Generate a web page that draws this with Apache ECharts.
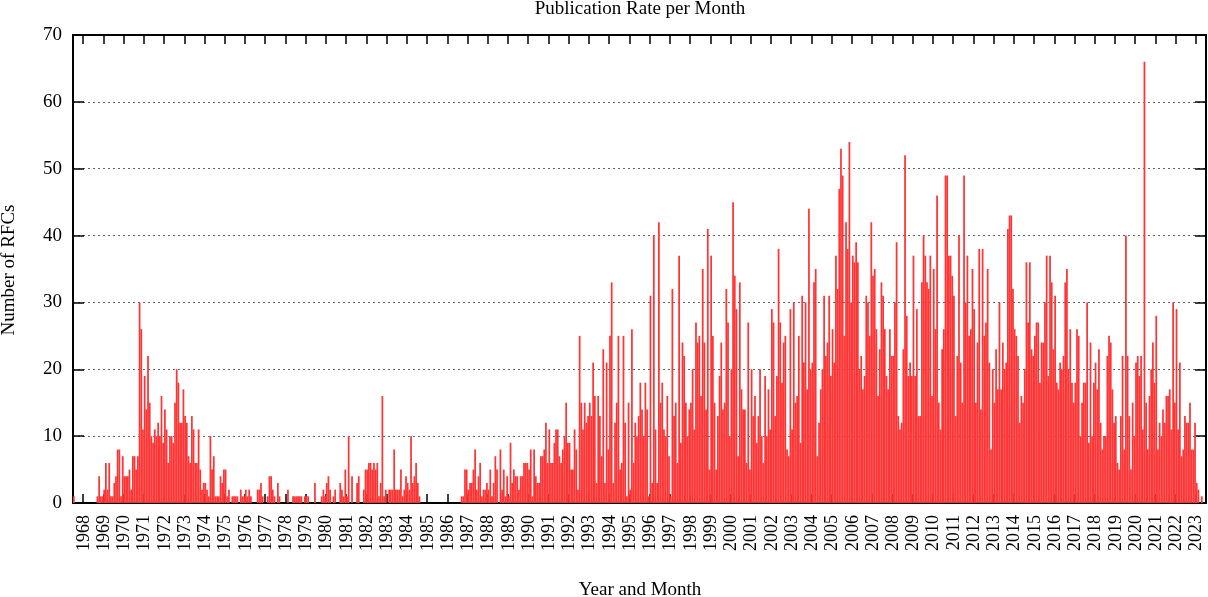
<!DOCTYPE html>
<html>
<head>
<meta charset="utf-8">
<title>Publication Rate per Month</title>
<script src="https://cdn.jsdelivr.net/npm/echarts@6/dist/echarts.min.js"></script>
<style>
  html, body { margin: 0; padding: 0; background: #fff; }
  #chart { width: 1208px; height: 597px; }
</style>
</head>
<body>
<div id="chart"></div>
<script>
// RFCs published per month, the first month on the axis is 1967-07
var firstYear = 1967, firstMonth = 7;

var rfc1967to1969 = [1,0,0,0,0,0,0,0,0,0,0,0,0,0, 1,4,1,1,2,6,2,6,1,1,3,4,8,8,1,7];
var rfc1970s = [
  4,4,4,5,2,7,7,5,7,30, 26,11,19,14,22,15,10,9,11,10,
  12,10,16,9,14,11,6,10,10,9, 15,20,18,12,12,17,13,12,7,6,
  13,11,6,6,11,5,2,3,3,2, 1,10,5,7,1,1,1,4,3,5,
  5,1,2,0,1,1,1,1,0,2, 1,1,2,1,2,1,0,0,0,2,
  2,3,1,0,0,1,4,4,2,1, 0,3,1,0,0,0,0,2,0,0,
  1,1,1,1,1,1,0,1,1,1, 0,0,0,3,0,0,0,1,2,1
];
var rfc1980s = [
  3,4,2,0,1,2,0,0,3,2, 1,5,1,10,0,4,0,0,3,4,
  0,0,2,5,5,6,6,5,6,5, 6,1,3,16,1,2,0,2,2,2,
  8,2,2,2,5,1,2,4,3,2, 10,3,4,6,3,1,0,0,0,0,
  0,0,0,0,0,0,0,0,0,0, 0,0,0,0,0,0,0,0,0,0,
  1,1,5,5,2,3,3,5,8,2, 4,6,1,2,2,3,2,5,1,3,
  7,5,0,8,2,5,1,4,1,9, 3,5,4,4,2,4,4,6,6,6
];
var rfc1990s = [
  5,8,1,8,4,3,3,7,7,8, 12,6,11,6,6,
  9,11,11,7,6,8,10,15,9,9, 5,5,11,8,2,25,15,11,15,12,
  13,15,13,21,16,3,16,13,7,23, 3,21,8,25,33,3,12,15,25,5,
  6,25,12,1,15,2,26,6,12,10, 13,18,14,10,
  18,14,1,31,3,40,11,3,42,15, 18,11,10,16,7,1,32,13,15,6,
  37,9,24,22,15,10,14,15,20,11, 27,24,25,16,35,24,14,41,5,37,
  25,15,5,13,19,24,14,15,32,27, 10
];
var rfc2000s = [
  20,45,34,29,7,
  33,17,14,14,6,27,5,20,13,16, 9,13,20,10,6,19,10,17,11,29,
  27,13,19,38,27,18,24,25,8,7, 29,11,30,15,16,25,9,31,21,30,
  17,44,20,21,33,35,7,12,17,20, 31,22,24,31,
  19,26,21,37,32,47,53,49,25,42, 38,54,30,37,36,39,36,20,22,17,
  19,31,30,25,42,34,35,26,16,23, 33,31,26,19,17,26,22,22,30,39,
  13,11,12,23,52,28,19,21,19,37, 19,29,13,13,33,
  40,37,33,32,37,16
];
var rfc2010s = [
  35,26,46,15, 11,23,26,49,49,37,37,34,31,13,
  22,40,21,15,49,30,37,25,26,35, 29,15,24,38,14,38,25,27,35,21,
  8,20,15,23,17,30,17,24,20,21, 41,43,43,32,
  26,25,22,12,16,15,20,36,27,36, 23,22,25,27,27,18,24,24,30,37,
  19,37,33,23,31,18,17,21,20,22, 33,35,20,26,18,15,18,26,25,10,
  15,18,18,30,9,24,10,18,21,17, 23,12,8,10,
  10,22,25,24,17,12,13,6,5,13, 22,8,40,22,13,5,15,10
];
var rfc2020to2023 = [
  21,22,19,22,11,66,15,8,16,20, 24,18,28,8,12,10,14,12,16,16,
  17,11,30,15,29,11,21,7,8,13, 12,12,15,8,8,12,3,2,0,1, 0,0
];

var yearLabels = ['1968','1969','1970','1971','1972','1973','1974','1975','1976','1977',
  '1978','1979','1980','1981','1982','1983','1984','1985','1986','1987','1988','1989',
  '1990','1991','1992','1993','1994','1995','1996','1997','1998','1999','2000','2001',
  '2002','2003','2004','2005','2006','2007','2008','2009','2010','2011','2012','2013',
  '2014','2015','2016','2017','2018','2019','2020','2021','2022','2023'];

var counts = [].concat(rfc1967to1969, rfc1970s, rfc1980s, rfc1990s, rfc2000s, rfc2010s, rfc2020to2023);

// one category per month
var months = [];
for (var k = 0; k < counts.length; k++) {
  var m = firstMonth - 1 + k;
  var y = firstYear + Math.floor(m / 12);
  var mm = (m % 12) + 1;
  months.push(y + '-' + (mm < 10 ? '0' + mm : mm));
}

function isYearStart(index, value) {
  return value.slice(5) === '01' && yearLabels.indexOf(value.slice(0, 4)) >= 0;
}

var serif = 'Liberation Serif';
var chart = echarts.init(document.getElementById('chart'), null, { renderer: 'canvas' });

var option = {
  animation: false,
  backgroundColor: '#fff',
  grid: {
    left: 73,
    right: 2,
    top: 35,
    bottom: 94
  },
  xAxis: [
    {
      type: 'category',
      data: months,
      boundaryGap: true,
      axisLine: { show: true, onZero: false, lineStyle: { color: '#000', width: 2 } },
      axisTick: {
        show: true, inside: true, length: 9, interval: isYearStart,
        lineStyle: { color: '#000', width: 1.5 }
      },
      axisLabel: {
        interval: isYearStart,
        rotate: 90,
        margin: 12,
        color: '#000',
        fontFamily: serif,
        fontSize: 18,
        formatter: function (v) { return v.slice(0, 4); }
      },
      splitLine: { show: false }
    },
    {
      type: 'category',
      position: 'top',
      data: months,
      boundaryGap: true,
      axisLine: { show: true, onZero: false, lineStyle: { color: '#000', width: 2 } },
      axisTick: {
        show: true, inside: true, length: 9, interval: isYearStart,
        lineStyle: { color: '#000', width: 1.5 }
      },
      axisLabel: { show: false },
      splitLine: { show: false }
    }
  ],
  yAxis: [
    {
      type: 'value',
      min: 0,
      max: 70,
      interval: 10,
      axisLine: { show: true, lineStyle: { color: '#000', width: 2 } },
      axisTick: { show: true, inside: true, length: 11, lineStyle: { color: '#000', width: 1.5 } },
      axisLabel: { margin: 11, color: '#000', fontFamily: serif, fontSize: 19 },
      splitLine: { show: true, lineStyle: { color: '#666', width: 1, type: [2, 3] } }
    },
    {
      type: 'value',
      position: 'right',
      min: 0,
      max: 70,
      interval: 10,
      axisLine: { show: true, lineStyle: { color: '#000', width: 2 } },
      axisTick: { show: true, inside: true, length: 11, lineStyle: { color: '#000', width: 1.5 } },
      axisLabel: { show: false },
      splitLine: { show: false }
    }
  ],
  graphic: [
    {
      type: 'text', x: 640, y: 9,
      style: { text: 'Publication Rate per Month', fontFamily: serif, fontSize: 19, fill: '#000', align: 'center', verticalAlign: 'middle' }
    },
    {
      type: 'text', x: 640, y: 590,
      style: { text: 'Year and Month', fontFamily: serif, fontSize: 19, fill: '#000', align: 'center', verticalAlign: 'middle' }
    },
    {
      type: 'text', x: 9, y: 270, rotation: Math.PI / 2,
      style: { text: 'Number of RFCs', fontFamily: serif, fontSize: 19, fill: '#000', align: 'center', verticalAlign: 'middle' }
    }
  ],
  series: [
    {
      name: 'RFCs',
      type: 'bar',
      xAxisIndex: 0,
      yAxisIndex: 0,
      data: counts,
      barWidth: 1.75,
      silent: true,
      itemStyle: { color: '#ff3434' }
    }
  ]
};

chart.setOption(option);
</script>
</body>
</html>
